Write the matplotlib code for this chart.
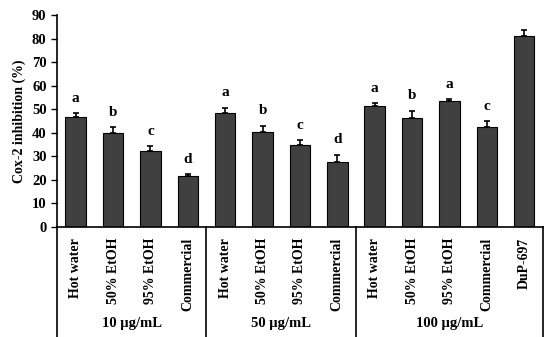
import matplotlib.pyplot as plt
from matplotlib.transforms import blended_transform_factory

plt.rcParams['font.family'] = ['Liberation Serif', 'DejaVu Serif']
plt.rcParams['font.weight'] = 'bold'

labels = ['Hot water', '50% EtOH', '95% EtOH', 'Commercial',
          'Hot water', '50% EtOH', '95% EtOH', 'Commercial',
          'Hot water', '50% EtOH', '95% EtOH', 'Commercial', 'DuP-697']
values = [46.5, 40.0, 32.2, 21.8, 48.3, 40.3, 34.6, 27.5, 51.2, 46.4, 53.5, 42.5, 81.0]
errors = [1.8, 2.4, 2.1, 0.5, 2.4, 2.7, 2.2, 3.2, 1.5, 3.0, 0.9, 2.5, 2.5]
letters = ['a', 'b', 'c', 'd', 'a', 'b', 'c', 'd', 'a', 'b', 'a', 'c', '']
groups = ['10 \u00b5g/mL', '50 \u00b5g/mL', '100 \u00b5g/mL']
group_edges = [-0.5, 3.5, 7.5, 12.5]

fig = plt.figure(figsize=(5.5, 3.37), dpi=100)
ax = fig.add_axes([0.1036, 0.327, 0.8834, 0.628])

x = list(range(len(values)))
ax.bar(x, values, width=0.55, color='#404040', edgecolor='black', linewidth=0.8,
       yerr=[[0] * len(errors), errors], capsize=2.5,
       error_kw=dict(ecolor='black', elinewidth=1.2, capthick=1.2))

for xi, v, e, t in zip(x, values, errors, letters):
    if t:
        ax.text(xi, v + e + 3.5, t, ha='center', va='bottom', fontsize=11, fontweight='bold')

ax.set_xlim(-0.5, 12.5)
ax.set_ylim(0, 90)
ax.set_yticks(range(0, 91, 10))
ax.tick_params(axis='y', labelsize=10.5, direction='out', length=4, width=1)
ax.set_ylabel('Cox-2 inhibition (%)', fontsize=10, fontweight='bold', labelpad=4)

ax.set_xticks(x)
ax.set_xticklabels(labels, rotation=90, fontsize=10, fontweight='bold')
ax.tick_params(axis='x', length=0, pad=8)

ax.spines['top'].set_visible(False)
ax.spines['right'].set_visible(False)
ax.spines['left'].set_visible(False)
ax.spines['bottom'].set_linewidth(1.2)

trans = blended_transform_factory(ax.transData, ax.transAxes)
for xe in group_edges:
    ax.plot([xe, xe], [1.0 if xe == -0.5 else 0.0, -0.52], color='black', lw=1.2,
            transform=trans, clip_on=False)

for g, (a, b) in zip(groups, zip(group_edges[:-1], group_edges[1:])):
    ax.text((a + b) / 2, -0.455, g, transform=trans, ha='center', va='center',
            fontsize=10.5, fontweight='bold')

fig.savefig('out.png', dpi=100)
